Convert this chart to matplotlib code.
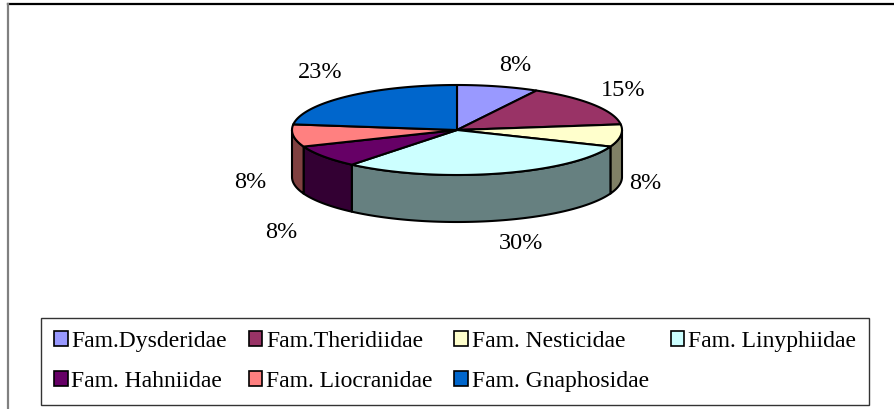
import numpy as np
import matplotlib
matplotlib.use("Agg")
import matplotlib.pyplot as plt
from matplotlib.patches import Polygon, Patch
from matplotlib.lines import Line2D

# ---- data ----
families = ["Fam.Dysderidae", "Fam.Theridiidae", "Fam. Nesticidae", "Fam. Linyphiidae",
            "Fam. Hahniidae", "Fam. Liocranidae", "Fam. Gnaphosidae"]
shares = [8, 15, 8, 30, 8, 8, 23]
colors = ["#9999FF", "#993366", "#FFFFCC", "#CCFFFF", "#660066", "#FF8080", "#0066CC"]

plt.rcParams["font.family"] = ["Liberation Serif", "DejaVu Serif"]

W, H = 895, 409
fig = plt.figure(figsize=(W / 100, H / 100), dpi=100)
ax = fig.add_axes([0, 0, 1, 1])
ax.set_xlim(0, W)
ax.set_ylim(H, 0)
ax.axis("off")

# chart frame (top + left visible)
ax.add_line(Line2D([8, W], [4, 4], color="black", lw=1.6))
ax.add_line(Line2D([8, 8], [4, H], color="#808080", lw=1.6))

# ---- 3D pie geometry ----
cx, cy, rx, ry, depth = 457, 130, 165, 45, 47
fr = np.array(shares, dtype=float) / np.sum(shares)
bounds = 90 - 360 * np.concatenate([[0], np.cumsum(fr)])


def ept(t, dy=0.0):
    r = np.deg2rad(t)
    return cx + rx * np.cos(r), cy - ry * np.sin(r) + dy


def darker(c):
    c = matplotlib.colors.to_rgb(c)
    return tuple(v * 0.5 for v in c)


# sides (front half only)
for i, c in enumerate(colors):
    a0, a1 = bounds[i], bounds[i + 1]
    lo_s, hi_s = min(a0, a1), max(a0, a1)
    for k in (-1, 0, 1):
        lo = max(lo_s, -180 + 360 * k)
        hi = min(hi_s, 360 * k)
        if hi - lo > 1e-6:
            ts = np.linspace(lo, hi, 80)
            top = [ept(t) for t in ts]
            bot = [ept(t, depth) for t in ts[::-1]]
            ax.add_patch(Polygon(top + bot, closed=True, fc=darker(c), ec="black",
                                 lw=1.5, joinstyle="round", zorder=2))

# top faces
for i, c in enumerate(colors):
    a0, a1 = bounds[i], bounds[i + 1]
    ts = np.linspace(a0, a1, 120)
    pts = [(cx, cy)] + [ept(t) for t in ts]
    ax.add_patch(Polygon(pts, closed=True, fc=c, ec="black", lw=1.5,
                         joinstyle="round", zorder=3))

# percentage labels (placed around the pie, with small layout nudges)
label_nudge = [(7, 1), (-3, -3), (-15, -5), (13, -4), (-10, 12), (-3, -6), (-1, -7)]
for i, v in enumerate(fr):
    mid = np.deg2rad((bounds[i] + bounds[i + 1]) / 2)
    x = cx + 205 * np.cos(mid) + label_nudge[i][0]
    y = cy - 70 * np.sin(mid) + (depth if np.sin(mid) < 0 else 0) + label_nudge[i][1]
    ax.text(x, y, f"{round(v * 100):.0f}%", ha="center", va="center_baseline",
            fontsize=17.5, zorder=5)

# legend (row-major order in a 4-column grid)
ncol = 4
nrow = int(np.ceil(len(families) / ncol))
order = [r * ncol + c for c in range(ncol) for r in range(nrow) if r * ncol + c < len(families)]
handles = [Patch(facecolor=colors[i], edgecolor="black", linewidth=1.2) for i in order]
labels = [families[i] for i in order]
leg = ax.legend(handles, labels, ncol=ncol, loc="center",
                bbox_to_anchor=(41 / W, 1 - 405 / H, 828 / W, 87 / H),
                mode="expand", fontsize=17, frameon=True, fancybox=False,
                edgecolor="black", handlelength=0.58, handleheight=0.58,
                handletextpad=0.15, columnspacing=0.5, labelspacing=0.8,
                borderpad=0.55, borderaxespad=0)
leg.get_frame().set_linewidth(1.0)

fig.savefig("out.png", dpi=100, facecolor="white")
